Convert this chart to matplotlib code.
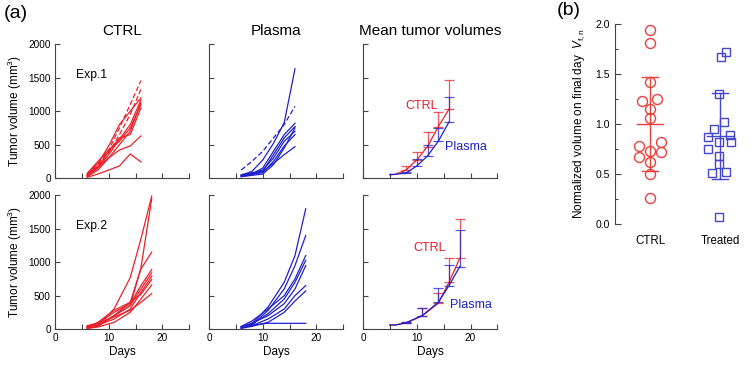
import numpy as np
import matplotlib
matplotlib.use('Agg')
import matplotlib.pyplot as plt

plt.rcParams['font.family'] = ['Liberation Sans', 'DejaVu Sans']
plt.rcParams['mathtext.fontset'] = 'custom'
plt.rcParams['mathtext.rm'] = 'Liberation Sans'
plt.rcParams['mathtext.it'] = 'Liberation Sans:italic'

RED = '#e8202a'
BLUE = '#2020cc'

# ---- individual growth curves ----
days1 = [6, 8, 10, 12, 14, 16]
days2 = [6, 8, 11, 14, 16, 18]

ctrl1 = [[50, 220, 480, 800, 1000, 1200],
         [30, 150, 350, 580, 800, 1170],
         [20, 120, 300, 500, 700, 1130],
         [40, 170, 400, 600, 650, 1050],
         [70, 250, 420, 550, 750, 1100],
         [40, 160, 300, 420, 480, 630],
         [10, 60, 120, 180, 360, 240]]
ctrl1_dash = [[60, 200, 420, 750, 1100, 1460],
              [40, 180, 380, 650, 950, 1330]]

plasma1 = [[40, 100, 270, 520, 830, 1635],
           [30, 60, 150, 400, 650, 820],
           [20, 50, 100, 350, 600, 770],
           [40, 70, 120, 300, 550, 700],
           [30, 60, 80, 250, 480, 650],
           [50, 80, 100, 220, 350, 470],
           [20, 40, 60, 200, 450, 750]]
plasma1_dash = [[120, 250, 400, 600, 800, 1075]]

ctrl2 = [[30, 60, 300, 770, 1350, 1990],
         [20, 50, 200, 350, 920, 1950],
         [20, 50, 200, 400, 900, 1150],
         [40, 80, 250, 380, 650, 890],
         [10, 40, 200, 350, 600, 840],
         [20, 60, 150, 300, 550, 790],
         [30, 100, 280, 400, 520, 740],
         [10, 30, 100, 250, 450, 660],
         [50, 90, 180, 280, 400, 530]]

plasma2 = [[30, 80, 330, 700, 1100, 1800],
           [20, 60, 280, 600, 950, 1400],
           [40, 120, 300, 500, 750, 1100],
           [10, 70, 230, 450, 700, 1030],
           [30, 90, 200, 380, 600, 950],
           [20, 50, 150, 300, 500, 650],
           [10, 40, 100, 250, 420, 570],
           [30, 60, 85, 85, 85, 85]]

# ---- mean curves (upper error only) ----
mdays1 = [5, 6, 8, 10, 12, 14, 16]
ctrl1_mean = [50, 55, 120, 270, 470, 770, 1030]
ctrl1_err = [0, 0, 55, 115, 215, 225, 430]
plasma1_mean = [50, 55, 75, 180, 330, 550, 840]
plasma1_err = [0, 0, 20, 110, 160, 200, 380]

mdays2 = [5, 6, 8, 11, 14, 16, 18]
ctrl2_mean = [60, 60, 90, 195, 385, 700, 1060]
ctrl2_err = [0, 0, 20, 115, 150, 370, 580]
plasma2_mean = [60, 60, 95, 200, 400, 650, 935]
plasma2_err = [0, 0, 15, 110, 210, 310, 545]

# ---- panel (b) ----
groups = ['CTRL', 'Treated']
ctrl_norm = [1.94, 1.81, 1.42, 1.23, 1.25, 1.15, 1.06, 0.78, 0.82, 0.73,
             0.67, 0.72, 0.62, 0.50, 0.26]
ctrl_jit = [0, 0, 0, -0.33, 0.29, 0, 0, -0.47, 0.43, 0, -0.47, 0.43, 0, 0, 0]
treat_norm = [1.67, 1.72, 1.30, 1.02, 0.95, 0.87, 0.89, 0.82, 0.82, 0.75,
              0.68, 0.60, 0.51, 0.52, 0.07]
treat_jit = [0.04, 0.26, -0.04, 0.17, -0.24, -0.47, 0.40, 0.43, -0.04, -0.47,
             -0.04, -0.04, -0.33, 0.26, -0.04]
ctrl_stats = [1.00, 0.47]   # mean, sd
treat_stats = [0.88, 0.43]


def style_ax(ax, xlab, ylab):
    ax.set_xlim(0, 25)
    ax.set_ylim(0, 2000)
    ax.set_xticks([0, 5, 10, 15, 20, 25])
    ax.set_yticks([0, 500, 1000, 1500, 2000])
    ax.spines['top'].set_visible(False)
    ax.spines['right'].set_visible(False)
    for s in ['left', 'bottom']:
        ax.spines[s].set_color('#444444')
        ax.spines[s].set_linewidth(0.8)
    ax.tick_params(direction='in', length=3.5, width=0.8, color='#444444',
                   labelsize=7.2, pad=3)
    if xlab:
        ax.set_xticklabels(['0', '', '10', '', '20', ''])
        ax.set_xlabel('Days', fontsize=8.5, labelpad=2)
    else:
        ax.set_xticklabels([])
    if ylab:
        ax.set_yticklabels(['0', '500', '1000', '1500', '2000'])
        ax.set_ylabel('Tumor volume (mm$^3$)', fontsize=8.5, labelpad=3)
    else:
        ax.set_yticklabels([])


fig = plt.figure(figsize=(7.55, 3.65), dpi=100)

lefts = [0.0728, 0.2768, 0.4808]
w = 0.178
bots = [0.5123, 0.0986]
h = 0.366

axes = {}
for r in range(2):
    for c in range(3):
        ax = fig.add_axes([lefts[c], bots[r], w, h])
        style_ax(ax, r == 1, c == 0)
        axes[(r, c)] = ax

lw = 0.9
# Exp.1
for y in ctrl1:
    axes[(0, 0)].plot(days1, y, color=RED, lw=lw)
for y in ctrl1_dash:
    axes[(0, 0)].plot(days1, y, color=RED, lw=lw, ls=(0, (4, 2)))
for y in plasma1:
    axes[(0, 1)].plot(days1, y, color=BLUE, lw=lw)
for y in plasma1_dash:
    axes[(0, 1)].plot(days1, y, color=BLUE, lw=lw, ls=(0, (4, 2)))
# Exp.2
for y in ctrl2:
    axes[(1, 0)].plot(days2, y, color=RED, lw=lw)
for y in plasma2:
    axes[(1, 1)].plot(days2, y, color=BLUE, lw=lw)

axes[(0, 0)].text(4, 1540, 'Exp.1', fontsize=8.7, va='center')
axes[(1, 0)].text(4, 1540, 'Exp.2', fontsize=8.7, va='center')

axes[(0, 0)].set_title('CTRL', fontsize=11, pad=7)
axes[(0, 1)].set_title('Plasma', fontsize=11, pad=7)
axes[(0, 2)].set_title('Mean tumor volumes', fontsize=11, pad=7)


def mean_plot(ax, d, m, e, col):
    ax.plot(d, m, color=col, lw=lw)
    ax.errorbar(d[2:], m[2:], yerr=[np.zeros(len(e) - 2), e[2:]], fmt='none',
                ecolor=col, elinewidth=lw, capsize=3.6, capthick=lw, alpha=0.75)


mean_plot(axes[(0, 2)], mdays1, ctrl1_mean, ctrl1_err, RED)
mean_plot(axes[(0, 2)], mdays1, plasma1_mean, plasma1_err, BLUE)
mean_plot(axes[(1, 2)], mdays2, ctrl2_mean, ctrl2_err, RED)
mean_plot(axes[(1, 2)], mdays2, plasma2_mean, plasma2_err, BLUE)

axes[(0, 2)].text(7.8, 1080, 'CTRL', color=RED, fontsize=9, va='center')
axes[(0, 2)].text(15.3, 470, 'Plasma', color=BLUE, fontsize=9, va='center')
axes[(1, 2)].text(9.3, 1215, 'CTRL', color=RED, fontsize=9, va='center')
axes[(1, 2)].text(16.1, 355, 'Plasma', color=BLUE, fontsize=9, va='center')

fig.text(0.005, 0.985, '(a)', fontsize=14, va='top', ha='left')
fig.text(0.737, 0.995, '(b)', fontsize=14, va='top', ha='left')

# ---- panel (b) ----
bx = fig.add_axes([0.8146, 0.3863, 0.1854, 0.548])
bx.set_xlim(-0.5, 1.5)
bx.set_ylim(0, 2.0)
for s in ['top', 'right', 'bottom']:
    bx.spines[s].set_visible(False)
bx.spines['left'].set_color('#444444')
bx.spines['left'].set_linewidth(0.8)
bx.set_yticks([0, 0.5, 1.0, 1.5, 2.0])
bx.set_yticklabels(['0.0', '0.5', '1.0', '1.5', '2.0'])
bx.set_yticks(np.arange(0.25, 2.0, 0.5), minor=True)
bx.tick_params(axis='y', which='major', direction='in', length=4, width=0.8,
               color='#444444', labelsize=7.5)
bx.tick_params(axis='y', which='minor', direction='in', length=2.5, width=0.8,
               color='#444444')
bx.set_xticks([0, 1])
bx.set_xticklabels(groups, fontsize=8.3)
bx.tick_params(axis='x', length=0, pad=8)
bx.set_ylabel('Normalized volume on final day  $V_{\\rm f,n}$', fontsize=8.5, labelpad=6)

CR = '#e8413c'
TB = '#4646cc'
bx.plot(0 + 0.35 * np.array(ctrl_jit), ctrl_norm, 'o', mfc='none', mec=CR, ms=7.2, mew=1)
bx.plot(1 + 0.35 * np.array(treat_jit), treat_norm, 's', mfc='none', mec=TB, ms=6.2, mew=1)

for i, (st, col) in enumerate([(ctrl_stats, CR), (treat_stats, TB)]):
    m, sd = st
    bx.plot([i - 0.19, i + 0.19], [m, m], color=col, lw=1)
    bx.plot([i, i], [m - sd, m + sd], color=col, lw=1)
    bx.plot([i - 0.12, i + 0.12], [m - sd, m - sd], color=col, lw=1)
    bx.plot([i - 0.12, i + 0.12], [m + sd, m + sd], color=col, lw=1)

fig.savefig('out.png', dpi=100)
